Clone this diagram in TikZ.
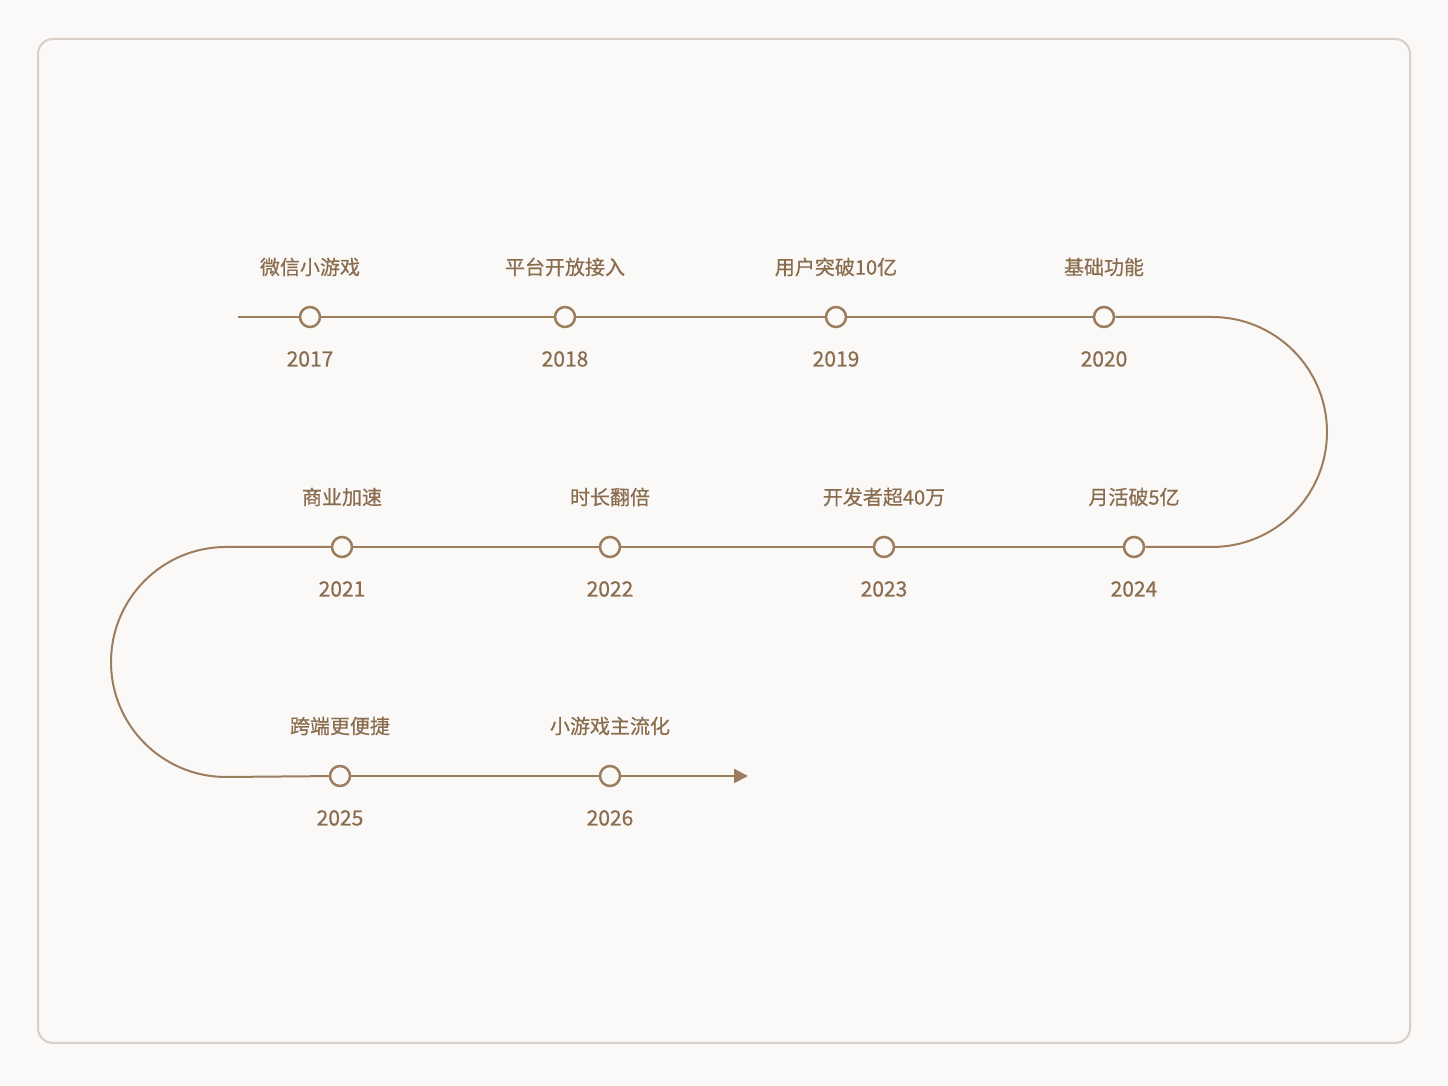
\documentclass[tikz,border=0pt]{standalone}
\usepackage{fontspec}
\setmainfont{Noto Sans CJK SC}
\newfontfamily\labelfont{Noto Sans CJK SC}[FakeBold=0.6]
\usetikzlibrary{arrows.meta}
\definecolor{linebrown}{RGB}{156,125,94}
\definecolor{textbrown}{RGB}{138,108,78}
\definecolor{paper}{RGB}{250,249,247}
\definecolor{framegrey}{RGB}{216,208,200}

\begin{document}
\begin{tikzpicture}[x=0.5pt,y=0.5pt,line width=1pt,
    year node/.style={circle,draw=linebrown,fill=paper,line width=1.25pt,minimum size=10pt,inner sep=0pt},
    event/.style={text=textbrown,font=\labelfont\fontsize{10}{12}\selectfont,node distance=25pt},
    year/.style={text=textbrown,font=\labelfont\fontsize{10.5}{12}\selectfont,node distance=21pt}]

            \useasboundingbox[fill=paper] (0,0) rectangle (1448,1086);
            \draw[framegrey,rounded corners=7.5pt] (38,43) rectangle (1410,1047);

            \node[year node] (1) at (310,769) {};
            \node[year node] (2) at (565,769) {};
            \node[year node] (3) at (836,769) {};
            \node[year node] (4) at (1104,769) {};
            \node[year node] (5) at (342,539) {};
            \node[year node] (6) at (610,539) {};
            \node[year node] (7) at (884,539) {};
            \node[year node] (8) at (1134,539) {};
            \node[year node] (9) at (340,310) {};
            \node[year node] (10) at (610,310) {};

            \coordinate (s) at (238,769);
            \coordinate (c1) at (1212,769);
            \coordinate (c2) at (226,539);
            \coordinate (e) at (748,310);

            \node[event] (e1) [above of = 1]{微信小游戏};
            \node[event] (e2) [above of = 2]{平台开放接入};
            \node[event] (e3) [above of = 3]{用户突破10亿};
            \node[event] (e4) [above of = 4]{基础功能};
            \node[event] (e5) [above of = 5]{商业加速};
            \node[event] (e6) [above of = 6]{时长翻倍};
            \node[event] (e7) [above of = 7]{开发者超40万};
            \node[event] (e8) [above of = 8]{月活破5亿};
            \node[event] (e9) [above of = 9]{跨端更便捷};
            \node[event] (e10) [above of = 10]{小游戏主流化};

            \node[year] (y1) [below of = 1]{2017};
            \node[year] (y2) [below of = 2]{2018};
            \node[year] (y3) [below of = 3]{2019};
            \node[year] (y4) [below of = 4]{2020};
            \node[year] (y5) [below of = 5]{2021};
            \node[year] (y6) [below of = 6]{2022};
            \node[year] (y7) [below of = 7]{2023};
            \node[year] (y8) [below of = 8]{2024};
            \node[year] (y9) [below of = 9]{2025};
            \node[year] (y10) [below of = 10]{2026};

            \draw[linebrown] (s) -- (1);
            \draw[linebrown] (1) -- (2);
            \draw[linebrown] (2) -- (3);
            \draw[linebrown] (3) -- (4);
            \draw[linebrown] (4) -- (c1) arc (90:-90:115) -- (8);
            \draw[linebrown] (8) -- (7);
            \draw[linebrown] (7) -- (6);
            \draw[linebrown] (6) -- (5);
            \draw[linebrown] (5) -- (c2) arc (90:270:115) -- (9);
            \draw[linebrown] (9) -- (10);
            \draw[linebrown,-{Triangle[length=7pt,width=7pt]}] (10) -- (e);

            ;
        \end{tikzpicture}
\end{document}
